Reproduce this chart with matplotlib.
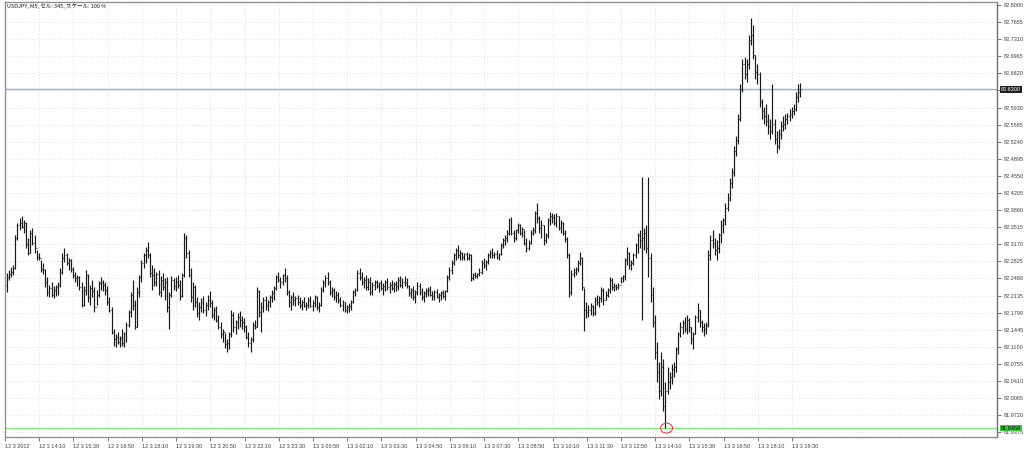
#!/usr/bin/env python3

import numpy as np
import matplotlib.pyplot as plt
from matplotlib.patches import Ellipse
import matplotlib.transforms as mtransforms

# USDJPY M5 bars, prices stored as thousandths above 82.000
base = 82.0

highs = [
	260, 265, 272, 275, 335, 360, 370, 375, 365, 362, 330, 345, 350, 335,
	305, 300, 285, 280, 268, 250, 235, 240, 232, 235, 240, 270, 300, 310,
	300, 290, 288, 272, 262, 255, 252, 240, 232, 265, 258, 235, 245, 230,
	225, 242, 250, 245, 240, 232, 210, 190, 145, 135, 140, 132, 145, 140,
	160, 185, 220, 245, 205, 230, 255, 285, 300, 312, 322, 300, 275, 270,
	262, 265, 252, 260, 248, 250, 220, 252, 248, 250, 255, 245, 260, 340,
	335, 305, 270, 240, 235, 210, 200, 208, 212, 200, 215, 222, 205, 190,
	192, 175, 160, 145, 138, 125, 140, 185, 180, 165, 178, 182, 172, 168,
	155, 140, 130, 160, 165, 230, 225, 200, 210, 212, 205, 215, 225, 232,
	255, 262, 250, 258, 270, 255, 225, 215, 220, 212, 215, 210, 205, 210,
	200, 210, 212, 205, 215, 212, 200, 230, 245, 255, 262, 245, 230, 228,
	222, 220, 210, 205, 200, 195, 198, 205, 225, 228, 265, 270, 262, 250,
	255, 248, 250, 240, 245, 245, 240, 245, 238, 245, 248, 240, 245, 240,
	242, 250, 252, 248, 252, 248, 235, 228, 232, 225, 240, 238, 228, 222,
	228, 230, 232, 222, 225, 226, 218, 222, 224, 225, 255, 272, 285, 300,
	310, 315, 305, 302, 300, 302, 300, 298, 260, 262, 260, 270, 285, 290,
	285, 300, 305, 310, 302, 305, 300, 320, 330, 335, 345, 370, 372, 345,
	348, 360, 358, 352, 345, 330, 325, 345, 352, 385, 400, 375, 365, 355,
	340, 370, 382, 380, 378, 380, 375, 365, 362, 345, 332, 300, 265, 270,
	272, 285, 302, 292, 228, 200, 195, 198, 195, 210, 215, 212, 230, 228,
	222, 228, 250, 248, 238, 236, 238, 250, 255, 290, 312, 302, 285, 300,
	320, 340, 345, 452, 350, 355, 453, 300, 230, 175, 120, 80, 100, 85,
	40, 70, 60, 75, 80, 110, 140, 160, 165, 170, 175, 168, 150, 140,
	175, 198, 185, 165, 158, 160, 305, 335, 345, 330, 325, 340, 365, 370,
	400, 420, 450, 470, 515, 535, 580, 640, 690, 695, 690, 740, 774, 760,
	700, 680, 665, 610, 595, 600, 580, 570, 640, 570, 545, 550, 565, 575,
	580, 582, 590, 595, 600, 625, 640, 642,
]

lows = [
	220, 245, 250, 255, 268, 325, 345, 350, 340, 310, 295, 300, 315, 300,
	285, 285, 262, 258, 230, 212, 210, 210, 208, 212, 215, 230, 258, 282,
	275, 265, 262, 248, 240, 232, 225, 190, 192, 215, 200, 195, 210, 180,
	195, 210, 225, 222, 215, 195, 180, 135, 112, 110, 115, 110, 112, 110,
	120, 150, 170, 185, 145, 150, 210, 240, 270, 280, 290, 250, 225, 232,
	232, 215, 210, 225, 205, 180, 145, 210, 225, 222, 228, 205, 210, 250,
	290, 250, 200, 185, 190, 170, 165, 180, 178, 172, 185, 190, 168, 165,
	160, 145, 128, 120, 108, 100, 105, 130, 140, 135, 145, 150, 145, 140,
	125, 110, 100, 120, 145, 150, 170, 140, 180, 185, 182, 190, 200, 205,
	225, 240, 228, 235, 240, 215, 190, 185, 195, 192, 195, 188, 185, 190,
	185, 188, 190, 182, 190, 185, 180, 192, 220, 230, 235, 215, 210, 205,
	200, 198, 190, 182, 180, 178, 180, 185, 198, 212, 222, 245, 235, 228,
	225, 225, 215, 215, 225, 228, 220, 225, 215, 222, 225, 218, 225, 220,
	222, 225, 230, 228, 232, 228, 212, 208, 205, 198, 215, 215, 205, 200,
	210, 212, 212, 205, 205, 208, 200, 205, 208, 205, 220, 245, 258, 275,
	285, 290, 285, 285, 285, 286, 285, 242, 245, 248, 248, 252, 258, 270,
	265, 278, 290, 290, 290, 288, 285, 295, 310, 315, 322, 335, 335, 322,
	325, 340, 335, 332, 315, 302, 305, 318, 335, 340, 360, 340, 330, 315,
	320, 330, 355, 360, 355, 352, 345, 340, 335, 322, 290, 211, 215, 250,
	255, 262, 275, 225, 142, 168, 170, 175, 172, 175, 195, 190, 200, 195,
	205, 210, 218, 225, 222, 224, 226, 238, 240, 245, 275, 268, 265, 275,
	290, 300, 310, 165, 305, 300, 250, 200, 150, 85, 40, 5, 10, -20,
	-54.1, 15, 25, 35, 50, 60, 95, 130, 135, 140, 135, 140, 115, 105,
	135, 160, 150, 140, 132, 135, 150, 285, 310, 295, 285, 300, 320, 340,
	355, 385, 405, 430, 455, 495, 520, 565, 625, 650, 645, 670, 720, 690,
	650, 640, 595, 570, 560, 555, 540, 530, 540, 520, 502, 510, 530, 545,
	550, 560, 565, 572, 578, 585, 605, 615,
]

closes = [
	250, 258, 262, 270, 330, 355, 360, 352, 360, 318, 300, 340, 320, 310,
	292, 290, 268, 265, 240, 220, 228, 215, 225, 230, 235, 262, 290, 295,
	280, 285, 268, 255, 248, 250, 230, 195, 225, 255, 210, 228, 222, 190,
	215, 238, 240, 235, 225, 200, 185, 140, 125, 130, 120, 128, 118, 135,
	155, 180, 215, 195, 150, 220, 250, 280, 295, 305, 295, 260, 255, 240,
	258, 220, 245, 230, 240, 190, 215, 245, 232, 240, 235, 212, 255, 330,
	300, 255, 210, 230, 200, 178, 190, 200, 185, 195, 205, 198, 175, 185,
	165, 150, 135, 140, 115, 118, 135, 175, 150, 160, 170, 165, 160, 150,
	130, 118, 125, 155, 150, 222, 180, 190, 205, 195, 200, 210, 218, 228,
	250, 245, 240, 255, 248, 220, 200, 210, 205, 208, 200, 195, 200, 192,
	195, 205, 192, 198, 210, 190, 195, 225, 240, 248, 240, 220, 225, 210,
	215, 205, 195, 200, 185, 190, 192, 200, 220, 225, 260, 250, 240, 245,
	230, 240, 220, 235, 240, 232, 238, 228, 232, 240, 230, 235, 228, 236,
	232, 245, 235, 240, 238, 232, 218, 225, 210, 220, 232, 220, 210, 218,
	222, 225, 215, 212, 220, 210, 215, 218, 212, 222, 250, 265, 280, 295,
	305, 295, 300, 292, 298, 290, 295, 248, 255, 252, 258, 262, 280, 275,
	282, 295, 300, 295, 298, 292, 298, 315, 325, 330, 340, 365, 340, 330,
	345, 355, 340, 348, 320, 310, 320, 340, 345, 380, 370, 350, 355, 325,
	335, 365, 375, 372, 360, 375, 350, 360, 340, 328, 295, 220, 258, 262,
	268, 280, 290, 230, 185, 180, 185, 192, 178, 205, 200, 208, 225, 205,
	215, 225, 245, 230, 232, 230, 235, 248, 252, 285, 300, 275, 280, 295,
	315, 335, 325, 330, 340, 310, 290, 215, 160, 100, 60, 20, 70, -10,
	20, 40, 50, 65, 70, 105, 135, 150, 158, 145, 165, 150, 125, 135,
	170, 185, 160, 150, 145, 155, 295, 325, 320, 305, 310, 335, 355, 365,
	390, 410, 440, 462, 505, 528, 570, 630, 680, 660, 680, 730, 740, 700,
	665, 660, 605, 585, 575, 565, 555, 545, 560, 530, 515, 540, 555, 560,
	570, 575, 580, 585, 590, 615, 625, 630,
]

time_labels = [
	"12 3 2012", "12 3 14:10", "12 3 15:30", "12 3 16:50", "12 3 18:10",
	"12 3 19:30", "12 3 20:50", "12 3 22:10", "12 3 23:30", "13 3 00:50",
	"13 3 02:10", "13 3 03:30", "13 3 04:50", "13 3 06:10", "13 3 07:30",
	"13 3 08:50", "13 3 10:10", "13 3 11:30", "13 3 12:50", "13 3 14:10",
	"13 3 15:30", "13 3 16:50", "13 3 18:10", "13 3 19:30",
]
bars_per_label = 16

price_top = 82.8000
price_step = 0.0345
n_price_ticks = 26

title = "USDJPY, M5, セル: 345, スケール: 100 %"

hi = base + np.array(highs) / 1000.0
lo = base + np.array(lows) / 1000.0
cl = base + np.array(closes) / 1000.0
op = np.concatenate([[cl[0] - 0.015], cl[:-1]])
idx = np.arange(len(cl))

fig = plt.figure(figsize=(10.24, 4.53), dpi=100)
ax = fig.add_axes([5/1024, 16/453, 992/1024, 435/453])

grid_kw = dict(color="#d2d2d2", lw=0.6, ls=(0, (1, 2.5)), zorder=0)
yticks = price_top - price_step*np.arange(n_price_ticks)
xticks = np.arange(len(time_labels))*bars_per_label - 0.8
for y in yticks :
	ax.axhline(y, **grid_kw)
for x in xticks :
	ax.axvline(x, **grid_kw)

# bars
ax.vlines(idx, lo, hi, color="#181818", lw=0.85, zorder=3)
ax.hlines(op, idx - 0.45, idx, color="#303030", lw=0.8, zorder=3)
ax.hlines(cl, idx, idx + 0.45, color="#303030", lw=0.8, zorder=3)

# bid line and low line
bid = cl[-1]
low = lo.min()
ax.axhline(bid, color="#8db4ec", lw=1.0, zorder=2)
ax.axhline(low, color="#86e486", lw=1.0, zorder=2)

ilow = int(np.argmin(lo))
ax.add_patch(Ellipse((ilow + 0.5, low), 5.6, 0.02, fill=False, ec="#f04040", lw=0.8, zorder=4))

ax.set_xlim(-0.5, 463.0)
ax.set_ylim(81.928, 82.806)

ax.yaxis.tick_right()
ax.set_yticks(yticks)
ylabels = ["%.4f" % v for v in yticks]
ylabels[5] = ""
ax.set_yticklabels(ylabels, fontsize=4, color="#404040", family="Liberation Sans")
ax.tick_params(axis="y", direction="out", length=3, width=0.6, color="#606060", pad=2)

ax.set_xticks(xticks)
ax.set_xticklabels(time_labels, fontsize=4, color="#404040", family="Liberation Sans")
for lbl in ax.get_xticklabels() :
	lbl.set_ha("left")
ax.tick_params(axis="x", direction="out", length=3, width=0.6, color="#606060", pad=2)

for s in ax.spines.values() :
	s.set_color("#909090")
	s.set_linewidth(1.0)
ax.spines["right"].set_color("#707070")

trans = mtransforms.blended_transform_factory(ax.transAxes, ax.transData)
ax.text(1.004, bid, "%.4f" % bid, transform=trans, fontsize=4, color="white",
	family="Liberation Sans", va="center", ha="left", zorder=5, clip_on=False,
	bbox=dict(boxstyle="square,pad=0.15", fc="#202020", ec="none"))
ax.text(1.004, low, "%.4f" % low, transform=trans, fontsize=4, color="black",
	family="Liberation Sans", va="center", ha="left", zorder=5, clip_on=False,
	bbox=dict(boxstyle="square,pad=0.15", fc="#3cc83c", ec="none"))

ax.text(0.002, 0.997, title, transform=ax.transAxes, fontsize=4, color="#202020",
	family=["Noto Sans CJK JP", "DejaVu Sans"], va="top", ha="left")

fig.savefig("out.png", dpi=100)
